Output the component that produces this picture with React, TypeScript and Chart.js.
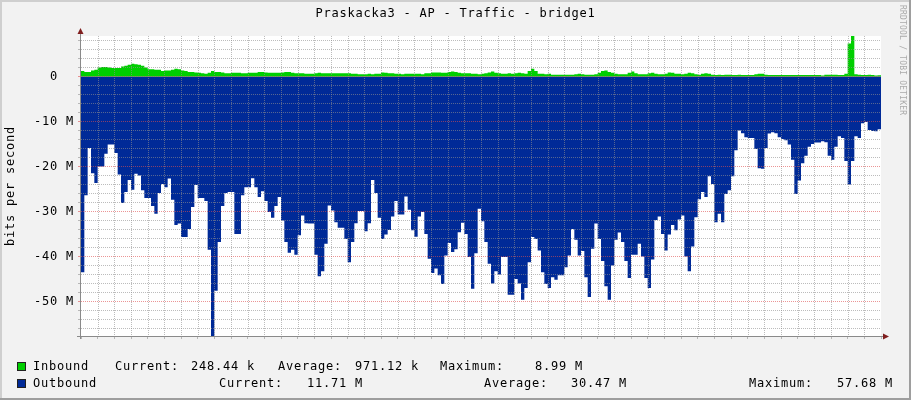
import React, { useEffect, useRef } from 'react';
import { Chart, registerables } from 'chart.js';

Chart.register(...registerables);

// ---- data (values in M bits/s, one value per minute starting 19:31) ----
const START_MIN = 19 * 60 + 31;
const STEP_MIN = 1;

const inbound: number[] = [
  1.2, 1.0, 1.0, 1.3, 1.5, 2.0, 2.1, 2.1, 2.0, 1.9,
  1.9, 1.9, 2.2, 2.4, 2.6, 2.8, 2.7, 2.6, 2.4, 2.0,
  1.6, 1.6, 1.5, 1.5, 1.2, 1.3, 1.3, 1.5, 1.7, 1.6,
  1.3, 1.2, 1.0, 1.0, 0.9, 0.8, 0.7, 0.6, 0.8, 1.2,
  1.0, 1.0, 0.9, 0.7, 0.7, 0.8, 0.8, 0.8, 0.7, 0.7,
  0.8, 0.8, 0.8, 1.0, 1.0, 0.9, 0.8, 0.8, 0.8, 0.8,
  0.9, 1.0, 1.0, 0.8, 0.7, 0.7, 0.7, 0.6, 0.6, 0.6,
  0.7, 0.8, 0.7, 0.7, 0.7, 0.7, 0.7, 0.7, 0.7, 0.7,
  0.7, 0.6, 0.6, 0.5, 0.5, 0.5, 0.6, 0.5, 0.6, 0.6,
  0.9, 0.8, 0.7, 0.7, 0.6, 0.6, 0.5, 0.6, 0.6, 0.6,
  0.6, 0.6, 0.5, 0.7, 0.7, 0.9, 0.9, 0.9, 0.8, 0.8,
  1.0, 1.1, 1.0, 0.8, 0.7, 0.7, 0.7, 0.6, 0.6, 0.5,
  0.6, 0.7, 0.9, 1.1, 0.8, 0.7, 0.6, 0.6, 0.7, 0.6,
  0.7, 0.8, 0.7, 0.6, 1.2, 1.7, 1.2, 0.6, 0.6, 0.5,
  0.6, 0.4, 0.4, 0.4, 0.4, 0.4, 0.4, 0.4, 0.5, 0.6,
  0.5, 0.4, 0.4, 0.4, 0.5, 0.8, 1.2, 1.3, 1.0, 0.8,
  0.6, 0.5, 0.5, 0.5, 0.8, 1.1, 0.7, 0.5, 0.5, 0.5,
  0.7, 0.8, 0.6, 0.5, 0.5, 0.6, 0.9, 0.8, 0.6, 0.6,
  0.5, 0.6, 0.8, 0.7, 0.5, 0.4, 0.6, 0.7, 0.6, 0.4,
  0.3, 0.4, 0.3, 0.4, 0.4, 0.3, 0.3, 0.4, 0.3, 0.3,
  0.3, 0.3, 0.5, 0.6, 0.6, 0.4, 0.3, 0.3, 0.3, 0.3,
  0.3, 0.3, 0.3, 0.3, 0.3, 0.3, 0.3, 0.3, 0.3, 0.3,
  0.3, 0.3, 0.2, 0.4, 0.4, 0.4, 0.4, 0.3, 0.3, 0.6,
  7.3, 8.99, 0.5, 0.4, 0.3, 0.3, 0.4, 0.3, 0.2, 0.25,
];

const outbound: number[] = [
  -43.5, -26.4, -15.9, -21.5, -23.7, -20, -20, -17.2, -15.1, -15.1,
  -17, -21.8, -28.1, -25.7, -23, -25.2, -21.6, -22, -25.3, -27,
  -27, -28.8, -30.5, -25.9, -23.9, -24.6, -22.7, -27.4, -33, -32.7,
  -35.7, -35.7, -33.9, -29, -24.1, -27, -27, -27.7, -38.5, -57.68,
  -47.6, -36.8, -28.8, -25.9, -25.7, -25.7, -35, -35, -26.4, -24.6,
  -24.6, -22.6, -24.6, -26.8, -25.5, -27.7, -30.1, -31.4, -28.8, -26.8,
  -32, -36.8, -39.2, -38.5, -39.6, -35.3, -30.9, -32.6, -32.7, -32.7,
  -39.6, -44.4, -43.3, -37.2, -28.7, -29.8, -32.4, -33.6, -33.6, -36.1,
  -41.3, -36.8, -32.6, -29.9, -29.9, -34.4, -32.6, -23, -25.9, -31.4,
  -36.1, -35.1, -34.1, -31.1, -27.7, -30.7, -30.7, -26.7, -29.6, -34.2,
  -35.6, -31.1, -30.1, -35, -40.5, -43.7, -42.7, -44.2, -46.1, -39.8,
  -37, -39, -38.4, -34.6, -32.5, -35, -40.1, -47.2, -39.3, -29.4,
  -32.2, -36.8, -41.6, -46, -43.3, -44, -40.1, -40.1, -48.5, -48.5,
  -45, -46, -49.6, -47, -41.3, -35.7, -36.1, -38.7, -43.5, -46.1,
  -47, -44.6, -45.2, -44.2, -44.2, -42.4, -39.8, -33.9, -36.3, -39.8,
  -38.8, -44.6, -49, -38.3, -32.7, -36.1, -41, -46.6, -49.6, -42,
  -36.3, -34.7, -36.8, -41, -44.8, -39.6, -39.6, -37.2, -40, -44.8,
  -47, -40.7, -31.9, -31.1, -35, -38.7, -35.1, -33, -34.2, -31.8,
  -30.9, -40, -43.3, -37.8, -31.3, -27.3, -25.7, -26.8, -22.2, -23.9,
  -32.4, -30.5, -32.4, -26.1, -25.3, -22.2, -16.4, -12, -12.6, -13.5,
  -13.7, -13.7, -16.1, -20.4, -20.5, -15.9, -12.7, -12.4, -12.6, -13.5,
  -13.9, -14.2, -15.1, -18.5, -26.1, -23.1, -19.3, -17.6, -15.6, -15,
  -14.7, -14.7, -14.4, -14.6, -17.6, -18.5, -15.6, -13.3, -13.7, -18.8,
  -24, -18.8, -13.3, -13.7, -10.4, -10.1, -11.9, -12.1, -12.2, -11.71,
];

const Y_MIN = -57.68;
const Y_MAX = 8.99;

const TITLE = 'Praskacka3 - AP - Traffic - bridge1';
const Y_TITLE = 'bits per second';
const WATERMARK = 'RRDTOOL / TOBI OETIKER';

const seriesNames = ['Inbound', 'Outbound'];
const currentLabels = ['248.44 k', '11.71 M'];
const averageLabels = ['971.12 k', '30.47 M'];
const maximumLabels = ['8.99 M', '57.68 M'];

// ---- styles ----
const FAMILY = "'DejaVu Sans Mono', monospace";
const FONT = `12px ${FAMILY}`;
const SPACING = '0.78px';
const IN_COLOR = '#00CF00';
const OUT_COLOR = '#002A97';
const MINOR = 'rgba(143,143,143,0.6)';
const MAJOR = 'rgba(222,79,79,0.6)';
const AXIS = '#8A8A8A';
const ARROW = '#801F1F';

const isMajorX = (v: number) => Math.abs(v % 20) < 1e-6;
const isMajorY = (v: number) => Math.abs(v % 10) < 1e-6;

const toPoints = (vals: number[]) => {
  const pts = vals.map((y, i) => ({ x: START_MIN + i * STEP_MIN, y }));
  pts.push({ x: START_MIN + vals.length * STEP_MIN, y: vals[vals.length - 1] });
  return pts;
};

const fmtTime = (v: number) => {
  const h = Math.floor(v / 60);
  const m = Math.round(v - h * 60);
  return `${h}:${String(m).padStart(2, '0')}`;
};

const setSpacing = (ctx: any, s: string) => {
  try { ctx.letterSpacing = s; } catch (e) { /* ignore */ }
};

// dotted (1 on / 1 off) grid at the scales' tick positions, drawn over the areas
const drawGrid = (chart: any) => {
  const { ctx, chartArea: a, scales } = chart;
  ctx.save();
  const xs: number[] = scales.x.ticks.map((t: any) => t.value);
  const ys: number[] = scales.y.ticks.map((t: any) => t.value);
  xs.forEach((v) => {
    const px = Math.round(scales.x.getPixelForValue(v));
    if (!(px > a.left && px < a.right)) return;
    ctx.fillStyle = isMajorX(v) ? MAJOR : MINOR;
    for (let y = Math.ceil(a.top); y < a.bottom; y += 2) ctx.fillRect(px, y, 1, 1);
  });
  ys.forEach((v) => {
    const py = Math.round(scales.y.getPixelForValue(v));
    if (!(py > a.top && py < a.bottom)) return;
    ctx.fillStyle = isMajorY(v) ? MAJOR : MINOR;
    for (let x = Math.ceil(a.left); x < a.right; x += 2) ctx.fillRect(x, py, 1, 1);
  });
  ctx.restore();
};

const decor = {
  id: 'rrdDecor',
  beforeDraw(chart: any) {
    const { ctx, chartArea: a, width, height } = chart;
    ctx.save();
    ctx.fillStyle = '#F2F2F2';
    ctx.fillRect(0, 0, width, height);
    ctx.fillStyle = '#FFFFFF';
    ctx.fillRect(a.left, a.top, a.right - a.left, a.bottom - a.top);
    ctx.fillStyle = '#CFCFCF';
    ctx.fillRect(0, 0, width, 2);
    ctx.fillRect(0, 0, 2, height);
    ctx.fillStyle = '#9E9E9E';
    ctx.fillRect(0, height - 2, width, 2);
    ctx.fillRect(width - 2, 0, 2, height);
    ctx.restore();
    setSpacing(ctx, SPACING);
  },
  afterDraw(chart: any) {
    const { ctx, chartArea: a } = chart;
    drawGrid(chart);
    ctx.save();
    // axes
    ctx.strokeStyle = AXIS;
    ctx.lineWidth = 1;
    ctx.beginPath();
    ctx.moveTo(a.left - 0.5, a.bottom + 3);
    ctx.lineTo(a.left - 0.5, a.top - 4);
    ctx.moveTo(a.left - 4, a.bottom + 0.5);
    ctx.lineTo(a.right + 3, a.bottom + 0.5);
    ctx.stroke();
    // arrows
    ctx.fillStyle = ARROW;
    ctx.beginPath();
    ctx.moveTo(a.left - 0.5, a.top - 8);
    ctx.lineTo(a.left - 3.5, a.top - 2);
    ctx.lineTo(a.left + 2.5, a.top - 2);
    ctx.closePath();
    ctx.fill();
    ctx.beginPath();
    ctx.moveTo(a.right + 8, a.bottom + 0.5);
    ctx.lineTo(a.right + 2, a.bottom - 2.5);
    ctx.lineTo(a.right + 2, a.bottom + 3.5);
    ctx.closePath();
    ctx.fill();

    // texts
    setSpacing(ctx, SPACING);
    ctx.font = FONT;
    ctx.fillStyle = '#000000';
    ctx.textBaseline = 'middle';
    ctx.textAlign = 'center';
    ctx.fillText(TITLE, 455.5, 14);

    ctx.save();
    ctx.translate(11, 186);
    ctx.rotate(-Math.PI / 2);
    ctx.fillText(Y_TITLE, 0, 0);
    ctx.restore();

    // legend
    const rows = [
      { y: 367, color: IN_COLOR, xs: [33, 115, 191, 278, 355, 440, 535] },
      { y: 384, color: OUT_COLOR, xs: [33, 219, 307, 484, 571, 749, 837] },
    ];
    ctx.textAlign = 'left';
    rows.forEach((r, i) => {
      ctx.fillStyle = r.color;
      ctx.fillRect(17, r.y - 5, 9, 9);
      ctx.strokeStyle = '#202020';
      ctx.lineWidth = 1;
      ctx.strokeRect(17.5, r.y - 4.5, 8, 8);
      ctx.fillStyle = '#000000';
      const parts = [seriesNames[i], 'Current:', currentLabels[i], 'Average:', averageLabels[i], 'Maximum:', maximumLabels[i]];
      parts.forEach((p, k) => ctx.fillText(p, r.xs[k], r.y));
    });

    // watermark
    setSpacing(ctx, '0.2px');
    ctx.font = `8px ${FAMILY}`;
    ctx.fillStyle = '#ABABAB';
    ctx.textBaseline = 'alphabetic';
    ctx.translate(899.5, 5);
    ctx.rotate(Math.PI / 2);
    ctx.fillText(WATERMARK, 0, 0);
    ctx.restore();
    setSpacing(ctx, SPACING);
  },
};

export default function App() {
  const ref = useRef<HTMLCanvasElement>(null);
  useEffect(() => {
    document.body.style.margin = '0';
    document.body.style.overflow = 'hidden';
    const canvas = ref.current;
    if (!canvas) return;
    const chart = new Chart(canvas, {
      type: 'line',
      data: {
        datasets: [
          {
            label: seriesNames[0],
            data: toPoints(inbound),
            stepped: true,
            fill: 'origin',
            backgroundColor: IN_COLOR,
            borderColor: 'rgba(0,0,0,0)',
            borderWidth: 0,
            pointRadius: 0,
          },
          {
            label: seriesNames[1],
            data: toPoints(outbound),
            stepped: true,
            fill: 'origin',
            backgroundColor: OUT_COLOR,
            borderColor: 'rgba(0,0,0,0)',
            borderWidth: 0,
            pointRadius: 0,
          },
        ],
      } as any,
      options: {
        responsive: false,
        animation: false,
        events: [],
        layout: { padding: { left: 0, right: 30, top: 36, bottom: 0 } },
        plugins: {
          legend: { display: false },
          tooltip: { enabled: false },
          title: { display: false },
        },
        scales: {
          x: {
            type: 'linear',
            min: START_MIN,
            max: START_MIN + inbound.length * STEP_MIN,
            afterFit: (s: any) => { s.height = 64; },
            border: { display: false },
            grid: {
              drawOnChartArea: false,
              drawTicks: true,
              tickLength: 3,
              color: (c: any) => (c.tick && isMajorX(c.tick.value) ? MAJOR : MINOR),
            },
            ticks: {
              stepSize: 5,
              autoSkip: false,
              maxRotation: 0,
              minRotation: 0,
              includeBounds: false,
              maxTicksLimit: 1000,
              padding: 2,
              color: '#000000',
              font: { family: FAMILY, size: 12 },
              callback: (v: any) => (isMajorX(Number(v)) ? fmtTime(Number(v)) : ''),
            },
          },
          y: {
            type: 'linear',
            min: Y_MIN,
            max: Y_MAX,
            afterFit: (s: any) => { s.width = 81; },
            border: { display: false },
            grid: {
              drawOnChartArea: false,
              drawTicks: true,
              tickLength: 3,
              color: (c: any) => (c.tick && isMajorY(c.tick.value) ? MAJOR : MINOR),
            },
            ticks: {
              stepSize: 2,
              includeBounds: false,
              autoSkip: false,
              maxTicksLimit: 1000,
              padding: 4,
              color: '#000000',
              font: { family: FAMILY, size: 12 },
              callback: (v: any) => {
                const n = Number(v);
                if (Math.abs(n) < 1e-6) return '0  ';
                return isMajorY(n) ? `${n} M` : '';
              },
            },
          },
        },
      } as any,
      plugins: [decor],
    });
    return () => chart.destroy();
  }, []);
  return (
    <div style={{ width: 911, height: 400 }}>
      <canvas ref={ref} width={911} height={400} style={{ display: 'block', width: 911, height: 400 }} />
    </div>
  );
}
